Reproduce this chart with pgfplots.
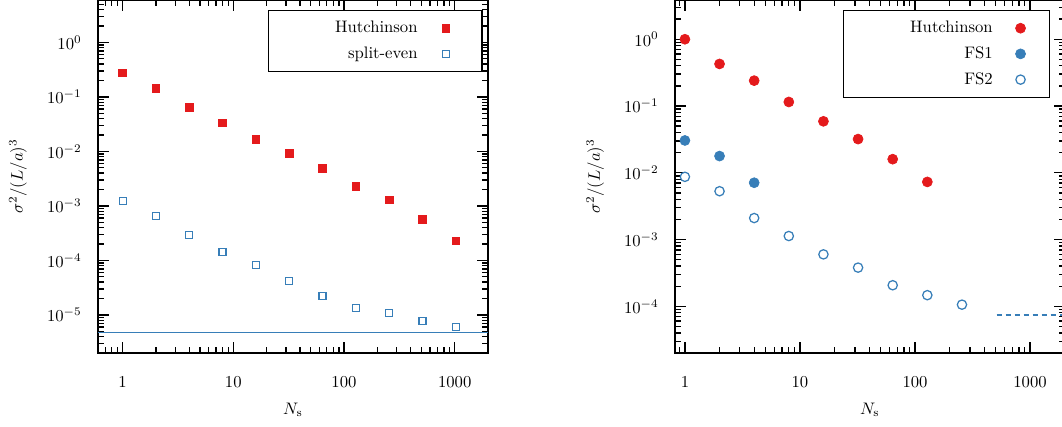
\documentclass[border=0pt]{standalone}
\usepackage{pgfplots}
\pgfplotsset{compat=1.18}
\definecolor{cred}{HTML}{E41A1C}
\definecolor{cblue}{HTML}{377EB8}
\pgfplotsset{
  myax/.style={
    scale only axis,
    axis line style={line width=0.8pt},
    every tick/.style={black, line width=0.8pt},
    major tick length=6.5pt, minor tick length=3.5pt,
    xtick={1,10,100,1000}, xticklabels={1,10,100,1000},
    xticklabel style={yshift=-10.5pt},
    yticklabel style={xshift=-6.3pt},
    xlabel={$N_\mathrm{s}$}, ylabel={$\sigma^2/(L/a)^3$},
    every axis x label/.style={at={(axis description cs:0.5,-0.1615)}, anchor=center},
    every axis y label/.style={at={(axis description cs:-0.205,0.5)}, rotate=90, anchor=center},
    legend cell align=right, legend plot pos=right,
    legend style={draw=black, line width=0.8pt, row sep=2.9pt, inner ysep=4.3pt},
  }
}
\begin{document}
\begin{tikzpicture}
\path[use as bounding box, clip] (0,0) rectangle (637.2pt,255.6pt);
\begin{loglogaxis}[myax, at={(58.8pt,43.8pt)}, anchor=south west,
  width=234pt, height=211.8pt,
  xmin=0.6, xmax=2000, ymin=2e-6, ymax=6,
  minor xtick={0.6,0.7,0.8,0.9,2,3,4,5,6,7,8,9,20,30,40,50,60,70,80,90,200,300,400,500,600,700,800,900,2000},
  ytick={1e-5,1e-4,1e-3,1e-2,1e-1,1},
  minor ytick={3e-6,4e-6,5e-6,6e-6,7e-6,8e-6,9e-6,2e-5,3e-5,4e-5,5e-5,6e-5,7e-5,8e-5,9e-5,2e-4,3e-4,4e-4,5e-4,6e-4,7e-4,8e-4,9e-4,2e-3,3e-3,4e-3,5e-3,6e-3,7e-3,8e-3,9e-3,0.02,0.03,0.04,0.05,0.06,0.07,0.08,0.09,0.2,0.3,0.4,0.5,0.6,0.7,0.8,0.9,2,3,4,5},
  legend style={at={(1,1)}, anchor=north east, xshift=-3.2pt, yshift=-6pt},
  legend image code/.code={\path (0pt,0pt) (33pt,0pt); \draw[mark repeat=2,mark phase=2,#1] plot coordinates {(0pt,0pt) (14.7pt,0pt) (29.4pt,0pt)};},
]
\addplot[only marks, mark=square*, mark size=2.25pt, draw=cred, fill=cred, line width=0.4pt] coordinates {
 (1,0.279) (2,0.144) (4,0.0645) (8,0.0338) (16,0.0167) (32,0.0093) (64,0.0049) (128,0.0023) (256,0.0013) (512,5.7e-4) (1024,2.3e-4)};
\addlegendentry{\makebox[84.4pt][r]{Hutchinson}}
\addplot[only marks, mark=square*, mark size=2.1pt, draw=cblue, fill=white, line width=0.65pt] coordinates {
 (1,1.21e-3) (2,6.6e-4) (4,2.96e-4) (8,1.4e-4) (16,8.3e-5) (32,4.2e-5) (64,2.2e-5) (128,1.34e-5) (256,1.1e-5) (512,7.6e-6) (1024,6.0e-6)};
\addlegendentry{\makebox[84.4pt][r]{split-even}}
\addplot[cblue, line width=0.8pt, forget plot] coordinates {(0.6,4.8e-6) (2000,4.8e-6)};
\end{loglogaxis}
\begin{loglogaxis}[myax, at={(405pt,43.8pt)}, anchor=south west,
  width=233.8pt, height=211.8pt,
  xmin=0.82, xmax=2000, ymin=2e-5, ymax=3.87,
  minor xtick={0.9,2,3,4,5,6,7,8,9,20,30,40,50,60,70,80,90,200,300,400,500,600,700,800,900,2000},
  ytick={1e-4,1e-3,1e-2,1e-1,1},
  minor ytick={2e-5,3e-5,4e-5,5e-5,6e-5,7e-5,8e-5,9e-5,2e-4,3e-4,4e-4,5e-4,6e-4,7e-4,8e-4,9e-4,2e-3,3e-3,4e-3,5e-3,6e-3,7e-3,8e-3,9e-3,0.02,0.03,0.04,0.05,0.06,0.07,0.08,0.09,0.2,0.3,0.4,0.5,0.6,0.7,0.8,0.9,2,3},
  legend style={at={(1,1)}, anchor=north east, xshift=-8.8pt, yshift=-6pt},
  legend image code/.code={\path (0pt,0pt) (28.2pt,0pt); \draw[mark repeat=2,mark phase=2,#1] plot coordinates {(0pt,0pt) (14.3pt,0pt) (28.6pt,0pt)};},
]
\addplot[only marks, mark=*, mark size=3pt, draw=cred, fill=cred, line width=0.4pt] coordinates {
 (1,1.0) (2,0.427) (4,0.24) (8,0.115) (16,0.059) (32,0.032) (64,0.016) (128,0.0073)};
\addlegendentry{\makebox[84.4pt][r]{Hutchinson}}
\addplot[only marks, mark=*, mark size=3pt, draw=cblue, fill=cblue, line width=0.4pt] coordinates {
 (1,0.0305) (2,0.0178) (4,0.0071)};
\addlegendentry{\makebox[84.4pt][r]{FS1}}
\addplot[only marks, mark=*, mark size=2.8pt, draw=cblue, fill=white, line width=0.75pt] coordinates {
 (1,0.0087) (2,0.0053) (4,0.0021) (8,0.00113) (16,6.0e-4) (32,3.8e-4) (64,2.07e-4) (128,1.47e-4) (256,1.06e-4)};
\addlegendentry{\makebox[84.4pt][r]{FS2}}
\addplot[cblue, line width=0.8pt, dash pattern=on 3pt off 2.4pt, forget plot] coordinates {(512,7.4e-5) (2000,7.4e-5)};
\end{loglogaxis}
\end{tikzpicture}
\end{document}
